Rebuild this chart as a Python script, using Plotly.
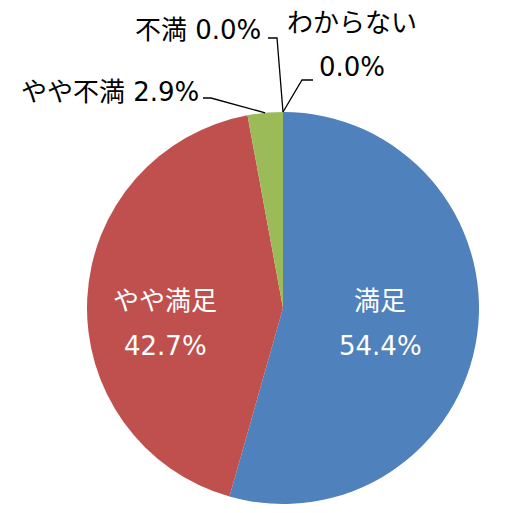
import math
import plotly.graph_objects as go

labels = ["満足", "やや満足", "やや不満", "不満", "わからない"]
values = [54.4, 42.7, 2.9, 0.0, 0.0]
colors = ["#4F81BD", "#C0504D", "#9BBB59", "#8064A2", "#4BACC6"]

W, H = 532, 513
CX, CY, R = 283, 308, 196  # pie centre / radius in pixels
FONT = "DejaVu Sans, Noto Sans CJK JP, sans-serif"
FS = 26


def px(x):
    return x / W


def py(y):
    return 1 - y / H


fig = go.Figure(go.Pie(
    labels=labels, values=values, sort=False, direction="clockwise",
    rotation=0, marker=dict(colors=colors, line=dict(width=0)),
    textinfo="none", hoverinfo="label+percent", showlegend=False,
    domain=dict(x=[px(CX - R), px(CX + R)], y=[py(CY + R), py(CY - R)]),
))

total = sum(values)
pct = [f"{v / total * 100:.1f}%" for v in values]

# slice mid angles (clockwise from 12 o'clock)
mids = []
acc = 0
for v in values:
    mids.append((acc + v / 2) / total * 2 * math.pi)
    acc += v


def edge(i):
    a = mids[i]
    return CX + R * math.sin(a), CY - R * math.cos(a)


anns = []
# inside labels (white)
inside_pos = [(380, 301, 346), (165, 301, 346)]
for i, (x, y1, y2) in enumerate(inside_pos):
    anns.append(dict(x=px(x), y=py(y1), text=labels[i], color="white"))
    anns.append(dict(x=px(x), y=py(y2), text=pct[i], color="white"))

# outside labels (black)
anns.append(dict(x=px(201), y=py(92), text=f"{labels[2]} {pct[2]}", xanchor="right"))
anns.append(dict(x=px(263), y=py(30), text=f"{labels[3]} {pct[3]}", xanchor="right"))
anns.append(dict(x=px(352), y=py(23), text=labels[4]))
anns.append(dict(x=px(352), y=py(67), text=pct[4]))

for a in anns:
    col = a.pop("color", "black")
    a.setdefault("xanchor", "center")
    a.update(xref="paper", yref="paper", yanchor="middle", showarrow=False,
             font=dict(family=FONT, size=FS, color=col))


def path(pts):
    return "M " + " L ".join(f"{px(x)},{py(y)}" for x, y in pts)


ex2, ey2 = edge(2)
ex3, ey3 = edge(3)
ex4, ey4 = edge(4)
lines = [
    [(203, 98), (211, 98), (ex2, ey2)],
    [(268, 38), (277, 38), (ex3, ey3)],
    [(ex4, ey4), (302, 80), (313, 80)],
]
shapes = [dict(type="path", xref="paper", yref="paper", path=path(p),
               line=dict(color="black", width=1.3)) for p in lines]

fig.update_layout(
    width=W, height=H, margin=dict(l=0, r=0, t=0, b=0),
    paper_bgcolor="white", plot_bgcolor="white",
    annotations=anns, shapes=shapes,
)
fig.write_html("out.html", config={"displayModeBar": False},
               post_script="document.body.style.margin='0';document.body.style.overflow='hidden';")
